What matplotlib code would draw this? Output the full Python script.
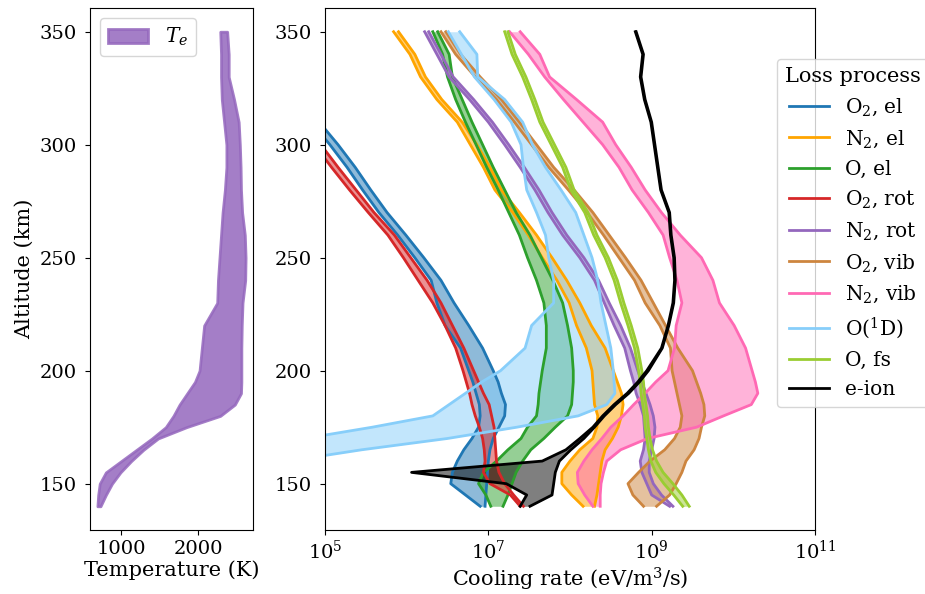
import numpy as np
import matplotlib
matplotlib.use('Agg')
import matplotlib.pyplot as plt

plt.rcParams['font.family'] = 'DejaVu Serif'
plt.rcParams['mathtext.fontset'] = 'dejavuserif'
plt.rcParams['font.size'] = 14
plt.rcParams['axes.labelsize'] = 15
plt.rcParams['xtick.labelsize'] = 14
plt.rcParams['ytick.labelsize'] = 14
plt.rcParams['xtick.major.pad'] = 3.5
plt.rcParams['ytick.major.pad'] = 6

# altitude grid (km)
alt = [140, 145, 150, 155, 160, 165, 170, 175, 180, 185, 190, 195, 200,
       210, 220, 230, 240, 250, 260, 270, 280, 290, 300, 310, 320, 330, 340, 350]

# electron temperature range (K)
te_lo = [690, 700, 720, 800, 1000, 1200, 1400, 1580, 1680, 1760, 1860, 1960, 2020,
         2050, 2080, 2250, 2260, 2280, 2300, 2320, 2350, 2370, 2370, 2340, 2310, 2300, 2300, 2290]
te_hi = [730, 800, 880, 990, 1130, 1290, 1480, 1850, 2290, 2480, 2560, 2565, 2565,
         2565, 2570, 2580, 2615, 2620, 2610, 2575, 2560, 2555, 2545, 2530, 2470, 2400, 2400, 2380]

# cooling rates, log10(eV/m^3/s), lower and upper edge of each band
o2_el_lo = [6.90, 6.72, 6.54, 6.56, 6.62, 6.70, 6.80, 6.88, 6.90, 6.89, 6.85, 6.81, 6.76,
            6.66, 6.47, 6.37, 6.30, 6.10, 5.89, 5.66, 5.46, 5.27, 5.06, 4.83, 4.62, 4.40, 4.20, 3.95]
o2_el_hi = [6.96, 6.97, 6.98, 6.99, 7.00, 7.02, 7.06, 7.13, 7.20, 7.21, 7.16, 7.12, 7.06,
            6.93, 6.76, 6.58, 6.42, 6.21, 5.99, 5.76, 5.56, 5.37, 5.16, 4.93, 4.72, 4.50, 4.30, 4.05]

n2_el_lo = [8.16, 8.02, 7.90, 7.90, 8.00, 8.12, 8.28, 8.33, 8.34, 8.30, 8.29, 8.28, 8.27,
            8.20, 8.08, 7.99, 7.84, 7.66, 7.49, 7.30, 7.08, 6.94, 6.78, 6.62, 6.37, 6.17, 6.04, 5.84]
n2_el_hi = [8.30, 8.33, 8.35, 8.37, 8.39, 8.43, 8.52, 8.59, 8.63, 8.65, 8.63, 8.58, 8.53,
            8.43, 8.26, 8.12, 7.96, 7.78, 7.59, 7.38, 7.16, 7.02, 6.86, 6.68, 6.43, 6.23, 6.10, 5.90]

o_el_lo = [7.03, 6.97, 6.88, 6.94, 7.10, 7.24, 7.40, 7.48, 7.59, 7.61, 7.62, 7.64, 7.66,
           7.71, 7.71, 7.68, 7.59, 7.48, 7.38, 7.25, 7.12, 6.98, 6.85, 6.72, 6.60, 6.50, 6.44, 6.32]
o_el_hi = [7.18, 7.24, 7.29, 7.34, 7.42, 7.52, 7.68, 7.82, 7.97, 8.02, 8.03, 8.04, 8.04,
           8.02, 7.97, 7.91, 7.79, 7.65, 7.51, 7.34, 7.20, 7.06, 6.93, 6.80, 6.68, 6.56, 6.52, 6.38]

o2_rot_lo = [7.39, 7.27, 7.02, 6.94, 6.96, 6.95, 6.93, 6.89, 6.84, 6.80, 6.77, 6.73, 6.69,
             6.60, 6.47, 6.32, 6.14, 5.96, 5.77, 5.53, 5.30, 5.08, 4.87, 4.64, 4.42, 4.17, 3.97, 3.77]
o2_rot_hi = [7.43, 7.31, 7.20, 7.13, 7.10, 7.09, 7.08, 7.07, 7.04, 7.01, 6.94, 6.88, 6.82,
             6.70, 6.56, 6.42, 6.25, 6.05, 5.85, 5.60, 5.38, 5.16, 4.95, 4.72, 4.50, 4.25, 4.05, 3.85]

n2_rot_lo = [9.22, 9.00, 8.94, 8.88, 8.86, 8.90, 8.92, 8.91, 8.90, 8.86, 8.81, 8.78, 8.74,
             8.67, 8.54, 8.42, 8.30, 8.12, 7.91, 7.73, 7.57, 7.39, 7.20, 7.00, 6.77, 6.52, 6.37, 6.22]
n2_rot_hi = [9.26, 9.12, 9.02, 8.97, 8.97, 9.00, 9.03, 9.04, 9.02, 8.98, 8.93, 8.88, 8.83,
             8.74, 8.62, 8.48, 8.35, 8.17, 7.96, 7.78, 7.62, 7.44, 7.25, 7.05, 6.82, 6.57, 6.42, 6.27]

o2_vib_lo = [8.90, 8.77, 8.71, 8.84, 8.98, 9.16, 9.28, 9.35, 9.37, 9.34, 9.31, 9.28, 9.25,
             9.23, 9.10, 8.92, 8.79, 8.60, 8.41, 8.21, 7.98, 7.74, 7.53, 7.32, 7.10, 6.84, 6.60, 6.42]
o2_vib_hi = [9.06, 9.22, 9.30, 9.37, 9.42, 9.52, 9.58, 9.61, 9.65, 9.64, 9.60, 9.55, 9.50,
             9.32, 9.17, 9.02, 8.87, 8.68, 8.48, 8.28, 8.05, 7.80, 7.59, 7.38, 7.16, 6.90, 6.66, 6.48]

n2_vib_lo = [8.28, 8.18, 8.10, 8.09, 8.17, 8.27, 8.39, 8.50, 8.65, 8.78, 8.92, 9.05, 9.20,
             9.28, 9.30, 9.37, 9.31, 9.22, 9.14, 8.96, 8.76, 8.60, 8.40, 8.16, 7.92, 7.69, 7.49, 7.26]
n2_vib_hi = [8.37, 8.37, 8.38, 8.41, 8.45, 8.62, 8.95, 9.55, 9.88, 10.22, 10.30, 10.27, 10.23,
             10.15, 10.01, 9.83, 9.75, 9.61, 9.35, 9.12, 8.92, 8.75, 8.56, 8.40, 8.08, 7.75, 7.63, 7.39]

o1d_lo = [-0.6, 0.3, 1.2, 2.1, 3.0, 3.9, 4.75, 5.58, 6.32, 6.52, 6.72, 6.92, 7.15,
          7.45, 7.53, 7.80, 7.80, 7.74, 7.70, 7.59, 7.47, 7.43, 7.40, 7.28, 7.07, 6.83, 6.67, 6.51]
o1d_hi = [0.6, 1.6, 2.6, 3.6, 4.55, 5.45, 6.50, 7.35, 8.10, 8.45, 8.55, 8.54, 8.53,
          8.50, 8.44, 8.38, 8.34, 8.27, 8.17, 8.07, 7.89, 7.70, 7.54, 7.42, 7.20, 6.87, 6.86, 6.65]

o_fs_lo = [9.38, 9.27, 9.15, 9.05, 8.99, 8.96, 8.94, 8.92, 8.91, 8.89, 8.87, 8.86, 8.84,
           8.79, 8.71, 8.62, 8.54, 8.43, 8.29, 8.18, 8.01, 7.91, 7.77, 7.63, 7.53, 7.42, 7.29, 7.20]
o_fs_hi = [9.46, 9.37, 9.26, 9.14, 9.06, 9.01, 8.98, 8.96, 8.95, 8.93, 8.91, 8.90, 8.88,
           8.83, 8.75, 8.66, 8.58, 8.47, 8.33, 8.22, 8.05, 7.95, 7.81, 7.67, 7.57, 7.46, 7.33, 7.24]

e_ion_lo = [7.39, 7.47, 7.22, 6.06, 7.66, 7.95, 8.12, 8.28, 8.40, 8.54, 8.70, 8.83, 8.94,
            9.12, 9.20, 9.26, 9.28, 9.27, 9.23, 9.21, 9.11, 9.07, 9.03, 8.99, 8.91, 8.86, 8.89, 8.80]
e_ion_hi = [7.51, 7.78, 7.80, 7.82, 7.87, 8.01, 8.17, 8.30, 8.42, 8.56, 8.72, 8.85, 8.96,
            9.13, 9.21, 9.27, 9.29, 9.28, 9.24, 9.22, 9.12, 9.08, 9.04, 9.00, 8.92, 8.87, 8.90, 8.81]

labels = [r'O$_2$, el', r'N$_2$, el', 'O, el', r'O$_2$, rot', r'N$_2$, rot',
          r'O$_2$, vib', r'N$_2$, vib', r'O($^1$D)', 'O, fs', 'e-ion']
colors = ['tab:blue', 'orange', 'tab:green', 'tab:red', 'tab:purple',
          'peru', 'hotpink', 'lightskyblue', 'yellowgreen', 'black']
bands = [(o2_el_lo, o2_el_hi), (n2_el_lo, n2_el_hi), (o_el_lo, o_el_hi),
         (o2_rot_lo, o2_rot_hi), (n2_rot_lo, n2_rot_hi), (o2_vib_lo, o2_vib_hi),
         (n2_vib_lo, n2_vib_hi), (o1d_lo, o1d_hi), (o_fs_lo, o_fs_hi),
         (e_ion_lo, e_ion_hi)]

fig = plt.figure(figsize=(9.25, 5.94), dpi=100)
ax1 = fig.add_axes([90/925, 64/594, 163/925, 522/594])
ax2 = fig.add_axes([325/925, 64/594, 490/925, 522/594])

# left panel: electron temperature
ax1.fill_betweenx(alt, te_lo, te_hi, facecolor='tab:purple', edgecolor='tab:purple',
                  alpha=0.85, linewidth=2, label='$T_e$')
ax1.set_xlabel('Temperature (K)', labelpad=2)
ax1.set_ylabel('Altitude (km)')
ax1.set_yticks([150, 200, 250, 300, 350])
ax1.set_xticks([1000, 2000])
ax1.legend(loc='upper left', fontsize=14.5)

# right panel: cooling rates
for (lo, hi), lab, c in zip(bands, labels, colors):
    lo = 10 ** np.array(lo)
    hi = 10 ** np.array(hi)
    ax2.fill_betweenx(alt, lo, hi, color=c, alpha=0.5, linewidth=0)
    ax2.plot(lo, alt, color=c, lw=2, label=lab)
    ax2.plot(hi, alt, color=c, lw=2)

ax2.set_xscale('log')
ax2.set_xlim(1e5, 1e11)
ax2.set_xticks([1e5, 1e7, 1e9, 1e11])
ax2.xaxis.set_minor_locator(matplotlib.ticker.NullLocator())
ax2.set_ylim(ax1.get_ylim())
ax2.set_yticks([150, 200, 250, 300, 350])
ax2.set_xlabel(r'Cooling rate (eV/m$^3$/s)', labelpad=2)
ax2.legend(title='Loss process', loc='upper left', bbox_to_anchor=(0.902, 0.921),
           fontsize=14.5, title_fontsize=15)

fig.savefig('out.png', dpi=100)
